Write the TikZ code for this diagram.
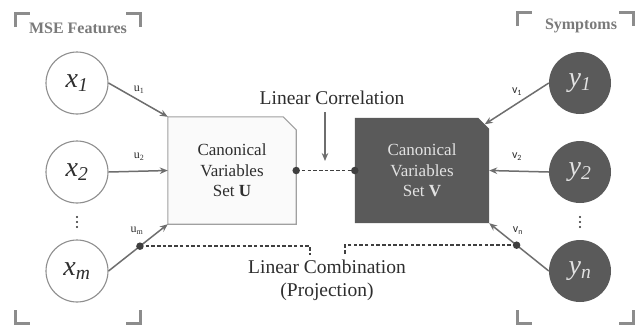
\documentclass[tikz,border=0pt]{standalone}
\usepackage{fontspec}
\setmainfont{Liberation Serif}
\newfontfamily\calfont{Carlito}
\usetikzlibrary{arrows.meta,calc,backgrounds}
\definecolor{bracketgray}{HTML}{8C8C8C}
\definecolor{titlegray}{HTML}{7A7A7A}
\definecolor{darkfill}{HTML}{5A5A5A}
\definecolor{arrowgray}{HTML}{6E6E6E}
\definecolor{dotgray}{HTML}{3F3F3F}
\definecolor{circleedge}{HTML}{8E8E8E}
\definecolor{boxedge}{HTML}{A0A0A0}
\definecolor{boxfill}{HTML}{FAFAFA}
\definecolor{lighttext}{HTML}{E2E2E2}
\definecolor{darktext}{HTML}{2E2E2E}
\begin{document}
\begin{tikzpicture}[x=1pt,y=-1pt,
  xnode/.style={circle,draw=circleedge,line width=1.1pt,fill=white,minimum size=62pt,inner sep=0pt,text=darktext,font=\fontsize{28}{28}\selectfont\itshape},
  ynode/.style={circle,fill=darkfill,minimum size=62pt,inner sep=0pt,text=lighttext,font=\fontsize{28}{28}\selectfont\itshape},
  setbox/.style={rectangle,draw=none,inner sep=0pt,align=center,font=\fontsize{17}{20.5}\selectfont},
  arr/.style={draw=arrowgray,line width=1.5pt,-{Stealth[length=8pt,width=6.5pt]}},
  ulabel/.style={font=\fontsize{12}{12}\selectfont,text=darktext},
  vlabel/.style={font=\calfont\fontsize{12}{12}\selectfont,text=darktext},
  dashln/.style={draw=dotgray,line width=1.5pt,dash pattern=on 3.5pt off 2.2pt},
  jdot/.style={circle,fill=dotgray,inner sep=0pt,minimum size=7.5pt},
  brk/.style={draw=bracketgray,line width=3pt},
  grouptitle/.style={text=titlegray,font=\fontsize{16}{16}\selectfont\bfseries},
  bigtext/.style={font=\fontsize{19.5}{23}\selectfont,text=darktext,align=center},
  vdot/.style={fill=darktext}
]
\path[use as bounding box] (0,0) rectangle (635,325);

% group brackets
\draw[brk] (15,27) -- (15,13) -- (30,13);
\draw[brk] (126,13) -- (140,13) -- (140,27);
\draw[brk] (15,310) -- (15,323) -- (30,323);
\draw[brk] (126,323) -- (140,323) -- (140,310);
\draw[brk] (517,26) -- (517,12) -- (532,12);
\draw[brk] (619,12) -- (633,12) -- (633,26);
\draw[brk] (517,310) -- (517,323) -- (532,323);
\draw[brk] (619,323) -- (633,323) -- (633,310);
\node[grouptitle] (mse) at (78,28) {MSE Features};
\node[grouptitle] (sym) at (581,26) {Symptoms};

% variable nodes
\node[xnode] (x1) at (77,83) {x\textsubscript{1}};
\node[xnode] (x2) at (77,172) {x\textsubscript{2}};
\node[xnode] (xm) at (77,271) {x\textsubscript{m}};
\node[ynode] (y1) at (580,83) {y\textsubscript{1}};
\node[ynode] (y2) at (580,172) {y\textsubscript{2}};
\node[ynode] (yn) at (580,271) {y\textsubscript{n}};
\fill[vdot] (77,217) circle (1.1pt) (77,222) circle (1.1pt) (77,227) circle (1.1pt);
\fill[vdot] (580,217) circle (1.1pt) (580,222) circle (1.1pt) (580,227) circle (1.1pt);

% canonical variable sets
\node[setbox,minimum width=128pt,minimum height=107pt,text=darktext] (U) at (232,170.5) {Canonical\\Variables\\Set \textbf{U}};
\node[setbox,minimum width=134pt,minimum height=105pt,text=lighttext] (V) at (422,170.5) {Canonical\\Variables\\Set \textbf{V}};
\begin{scope}[on background layer]
\fill[white] (0,0) rectangle (635,325);
\filldraw[fill=boxfill,draw=boxedge,line width=1.1pt] (U.south west) -- (U.north west) -- ($(U.north east)+(-13,0)$) -- ($(U.north east)+(0,13)$) -- (U.south east) -- cycle;
\fill[darkfill] (V.south west) -- (V.north west) -- ($(V.north east)+(-11,0)$) -- ($(V.north east)+(0,11)$) -- (V.south east) -- cycle;
\end{scope}
\coordinate (Vc) at ($(V.north east)+(-4.5,6.5)$);

% weights
\draw[arr] (x1.east) -- (U.north west);
\draw[arr] (x2.east) -- (U.west);
\draw[arr] (xm.east) -- coordinate[pos=0.53] (umdot) (U.south west);
\draw[arr] (y1.west) -- (Vc);
\draw[arr] (y2.west) -- (V.east);
\draw[arr] (yn.west) -- coordinate[pos=0.54] (vndot) (V.south east);
\node[ulabel] (lu1) at (139,90) {u\textsubscript{1}};
\node[ulabel] (lu2) at (139,157) {u\textsubscript{2}};
\node[ulabel] (lum) at (137,231) {u\textsubscript{m}};
\node[vlabel] (lv1) at (517,92) {v\textsubscript{1}};
\node[vlabel] (lv2) at (517,157) {v\textsubscript{2}};
\node[vlabel] (lvn) at (518,231) {v\textsubscript{n}};

% linear correlation
\node[bigtext] (corr) at (332,98) {Linear Correlation};
\coordinate (corrtop) at (325,112);
\coordinate (corrtip) at (325,161);
\draw[arr] (corrtop) -- (corrtip);
\draw[dashln] (U.east) -- (V.west);
\node[jdot] (du) at (U.east) {};
\node[jdot] (dv) at (V.west) {};

% linear combination
\coordinate (lcL) at (310,255);
\coordinate (lcR) at (345,255);
\draw[dashln] (umdot) -| (lcL);
\draw[dashln] (vndot) -| (lcR);
\node[jdot] (dum) at (umdot) {};
\node[jdot] (dvn) at (vndot) {};
\node[bigtext] (comb) at (327,280.5) {Linear Combination\\(Projection)};
\end{tikzpicture}
\end{document}
